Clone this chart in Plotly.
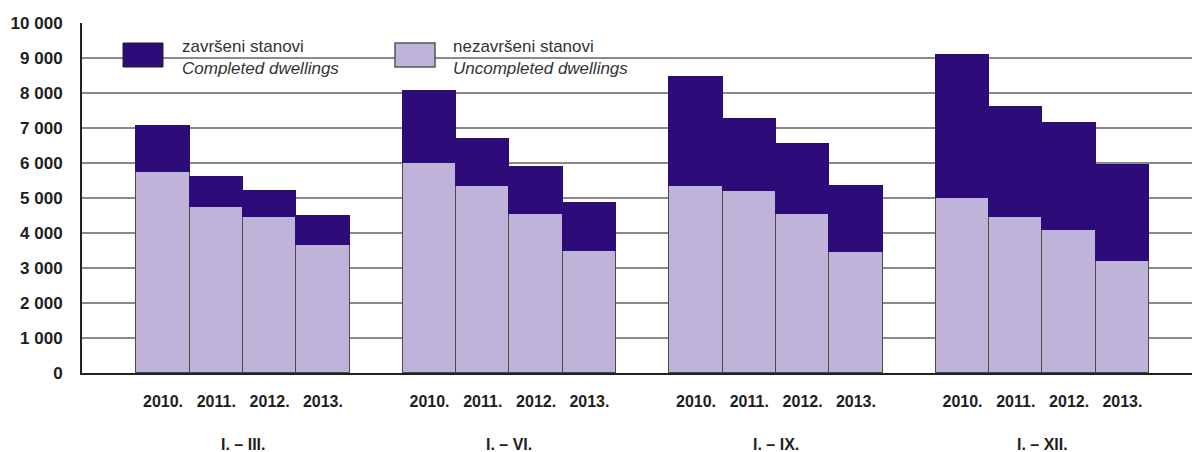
import plotly.graph_objects as go

periods = ["I. – III.", "I. – VI.", "I. – IX.", "I. – XII."]
years = ["2010.", "2011.", "2012.", "2013."]

# uncompleted dwellings (lower part), per period, per year
uncompleted = [
    [5750, 4750, 4450, 3650],
    [6000, 5350, 4550, 3500],
    [5350, 5200, 4550, 3450],
    [5000, 4450, 4100, 3200],
]
totals = [
    [7050, 5600, 5200, 4500],
    [8050, 6700, 5900, 4850],
    [8450, 7250, 6550, 5350],
    [9100, 7600, 7150, 5950],
]
completed = [[t - u for t, u in zip(tr, ur)] for tr, ur in zip(totals, uncompleted)]

yticks = [0, 1000, 2000, 3000, 4000, 5000, 6000, 7000, 8000, 9000, 10000]

DARK = "#2d0b78"
LIGHT = "#bfb3da"
EDGE = "#4a4a4a"
FONT = "Liberation Sans, Arial, sans-serif"
TXT = "#1e1e1e"

GROUP = 5
xs, xlab, ys_u, ys_c = [], [], [], []
for g in range(len(periods)):
    for i in range(len(years)):
        xs.append(g * GROUP + i)
        xlab.append(years[i])
        ys_u.append(uncompleted[g][i])
        ys_c.append(completed[g][i])

fig = go.Figure()
fig.add_trace(go.Bar(
    x=xs, y=ys_u, width=1.0, name="nezavršeni stanovi",
    marker=dict(color=LIGHT, line=dict(color=EDGE, width=1)),
    hoverinfo="y",
))
fig.add_trace(go.Bar(
    x=xs, y=ys_c, width=1.0, name="završeni stanovi",
    marker=dict(color=DARK, line=dict(color=DARK, width=1)),
    hoverinfo="y",
))

W, H = 1192, 452
L, R, T, B = 82, 0, 23, 79
PW, PH = W - L - R, H - T - B


def px(xp):
    return (xp - L) / PW


def py(yp):
    return (H - B - yp) / PH


shapes = [
    # white legend background hiding the grid line
    dict(type="rect", xref="paper", yref="paper", layer="between",
         x0=px(112), x1=px(643), y0=py(84), y1=py(30),
         fillcolor="white", line=dict(width=0)),
    # legend swatches
    dict(type="rect", xref="paper", yref="paper", layer="above",
         x0=px(123), x1=px(163), y0=py(67), y1=py(43),
         fillcolor=DARK, line=dict(color="#222", width=1)),
    dict(type="rect", xref="paper", yref="paper", layer="above",
         x0=px(395), x1=px(435), y0=py(67), y1=py(43),
         fillcolor=LIGHT, line=dict(color="#555", width=1.5)),
]

annotations = [
    dict(xref="paper", yref="paper", x=px(180), y=py(57), xanchor="left", yanchor="middle",
         text="završeni stanovi<br><i>Completed dwellings</i>", showarrow=False, align="left",
         font=dict(family=FONT, size=17, color="#333")),
    dict(xref="paper", yref="paper", x=px(451), y=py(57), xanchor="left", yanchor="middle",
         text="nezavršeni stanovi<br><i>Uncompleted dwellings</i>", showarrow=False, align="left",
         font=dict(family=FONT, size=17, color="#333")),
]
for g, p in enumerate(periods):
    annotations.append(dict(
        xref="x", yref="paper", x=g * GROUP + 1.5, y=py(444), xanchor="center", yanchor="middle",
        text=p, showarrow=False, font=dict(family=FONT, size=16, color=TXT, weight="bold")))

x0 = (L - 163) / 53.3
x1 = (W - 163) / 53.3

fig.update_layout(
    width=W, height=H,
    margin=dict(l=L, r=R, t=T, b=B),
    barmode="stack",
    bargap=0,
    showlegend=False,
    plot_bgcolor="white",
    paper_bgcolor="white",
    separators=", ",
    font=dict(family=FONT, size=16, color=TXT),
    shapes=shapes,
    annotations=annotations,
    xaxis=dict(
        range=[x0, x1], tickmode="array", tickvals=xs, ticktext=xlab,
        showgrid=False, zeroline=False, ticks="", showline=True,
        linecolor="#222", linewidth=2, ticklabelstandoff=13,
        tickfont=dict(family=FONT, size=16, color=TXT, weight="bold"),
    ),
    yaxis=dict(
        range=[0, 10000], tickmode="array", tickvals=yticks, tickformat=",d",
        showgrid=True, gridcolor="#8a8a8a", gridwidth=1.5, zeroline=False,
        ticks="", showline=True, linecolor="#222", linewidth=2,
        ticklabelstandoff=14,
        tickfont=dict(family=FONT, size=17, color=TXT, weight="bold"),
    ),
)

fig.write_html(
    "out.html",
    config={"displayModeBar": False},
    post_script="document.body.style.margin='0';document.body.style.overflow='hidden';",
)
